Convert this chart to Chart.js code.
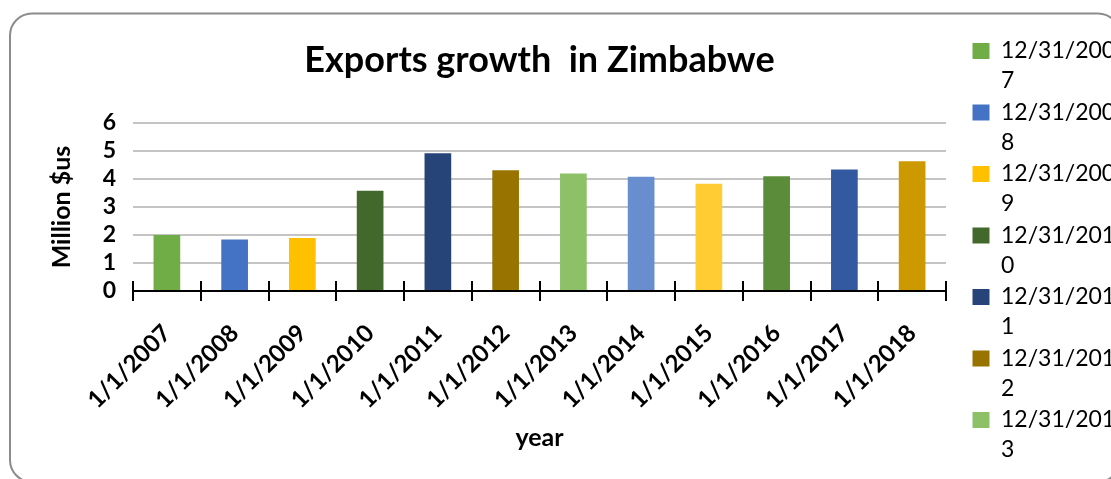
<!DOCTYPE html>
<html><head><meta charset="utf-8">
<style>html,body{margin:0;padding:0;background:#fff;overflow:hidden;width:1111px;height:479px;}canvas{display:block;}</style>
<script src="https://cdn.jsdelivr.net/npm/chart.js@4"></script>
</head><body>
<canvas id="c" width="1121" height="479"></canvas>
<script>
const chartTitle = 'Exports growth  in Zimbabwe';
const categories = ['1/1/2007','1/1/2008','1/1/2009','1/1/2010','1/1/2011','1/1/2012','1/1/2013','1/1/2014','1/1/2015','1/1/2016','1/1/2017','1/1/2018'];
const exportsValues = [2.0, 1.84, 1.89, 3.58, 4.92, 4.31, 4.20, 4.08, 3.83, 4.10, 4.34, 4.63];
const legendLabels = ['12/31/2007','12/31/2008','12/31/2009','12/31/2010','12/31/2011','12/31/2012','12/31/2013','12/31/2014','12/31/2015','12/31/2016','12/31/2017','12/31/2018'];
const barColors = ['#70AD47','#4472C4','#FFC000','#43682B','#264478','#997300','#8CC168','#698ED0','#FFCD33','#5B8C3A','#335AA1','#CC9A00'];
const yTickValues = [0,1,2,3,4,5,6];
const legendVisibleCount = 7;
const FONT = 'Lato';

const roundedFrame = {
  id: 'roundedFrame',
  beforeDraw(chart) {
    const ctx = chart.ctx;
    ctx.save();
    ctx.fillStyle = '#fff';
    ctx.fillRect(0, 0, chart.width, chart.height);
    ctx.strokeStyle = '#8c8c8c';
    ctx.lineWidth = 2;
    ctx.beginPath();
    ctx.roundRect(10, 13.5, 1110, 468.5, 22);
    ctx.stroke();
    ctx.restore();
  }
};

const crossTicks = {
  id: 'crossTicks',
  afterDatasetsDraw(chart) {
    const xs = chart.scales.x;
    const ctx = chart.ctx;
    ctx.save();
    ctx.strokeStyle = '#000';
    ctx.lineWidth = 2;
    for (let i = 0; i <= categories.length; i++) {
      const px = Math.round(xs.getPixelForValue(i - 0.5));
      ctx.beginPath();
      ctx.moveTo(px, xs.top - 10);
      ctx.lineTo(px, xs.top);
      ctx.stroke();
    }
    ctx.restore();
  }
};

new Chart(document.getElementById('c'), {
  type: 'bar',
  data: {
    labels: categories,
    datasets: [{
      label: 'Exports',
      data: exportsValues,
      backgroundColor: barColors,
      borderWidth: 0,
      categoryPercentage: 1,
      barPercentage: 0.394
    }]
  },
  options: {
    responsive: false,
    animation: false,
    devicePixelRatio: 1,
    layout: { padding: { top: 38, right: 10, bottom: 0, left: 0 } },
    plugins: {
      tooltip: { enabled: false },
      title: {
        display: true,
        text: chartTitle,
        fullSize: false,
        color: '#000',
        font: { family: FONT, size: 36, weight: 'bold', lineHeight: 1.2 },
        padding: { top: 1, bottom: 40.8 }
      },
      legend: {
        display: true,
        position: 'right',
        align: 'start',
        maxWidth: 140,
        labels: {
          color: '#000',
          font: { family: FONT, size: 23, lineHeight: 30 / 23 },
          boxWidth: 17,
          boxHeight: 16,
          padding: 1.5,
          generateLabels() {
            return legendLabels.slice(0, legendVisibleCount).map((s, i) => ({
              text: [s.slice(0, -1), s.slice(-1)],
              fillStyle: barColors[i],
              strokeStyle: barColors[i],
              lineWidth: 0,
              hidden: false,
              index: i
            }));
          }
        }
      }
    },
    scales: {
      x: {
        offset: true,
        grid: { offset: true, drawOnChartArea: false, drawTicks: true, tickLength: 10, color: '#000', lineWidth: 2 },
        border: { display: true, color: '#000', width: 2 },
        ticks: {
          color: '#000',
          font: { family: FONT, size: 24, weight: 'bold' },
          minRotation: 45, maxRotation: 45,
          autoSkip: false,
          padding: 18
        },
        title: {
          display: true, text: 'year', color: '#000',
          font: { family: FONT, size: 25, weight: 'bold', lineHeight: 1.2 },
          padding: { top: 0, bottom: 26 }
        },
        afterFit(s) { s.height = 188; }
      },
      y: {
        min: yTickValues[0],
        max: yTickValues[yTickValues.length - 1],
        afterBuildTicks(s) { s.ticks = yTickValues.map(v => ({ value: v })); },
        grid: {
          drawTicks: false,
          lineWidth: 2,
          color: (c) => c.tick && c.tick.value === 0 ? 'rgba(0,0,0,0)' : '#c4c4c4'
        },
        border: { display: false },
        ticks: {
          color: '#000',
          autoSkip: false,
          stepSize: 1,
          font: { family: FONT, size: 23, weight: 'bold' },
          padding: 17
        },
        title: {
          display: true, text: 'Million $us', color: '#000',
          font: { family: FONT, size: 25, weight: 'bold', lineHeight: 1.2 },
          padding: { top: 47, bottom: 0 }
        },
        afterFit(s) { s.width = 133; }
      },
      gap: {
        type: 'linear',
        position: 'right',
        display: true,
        grid: { display: false },
        border: { display: false },
        ticks: { display: false },
        afterFit(s) { s.width = 25; }
      }
    }
  },
  plugins: [roundedFrame, crossTicks]
});
</script>
</body></html>
